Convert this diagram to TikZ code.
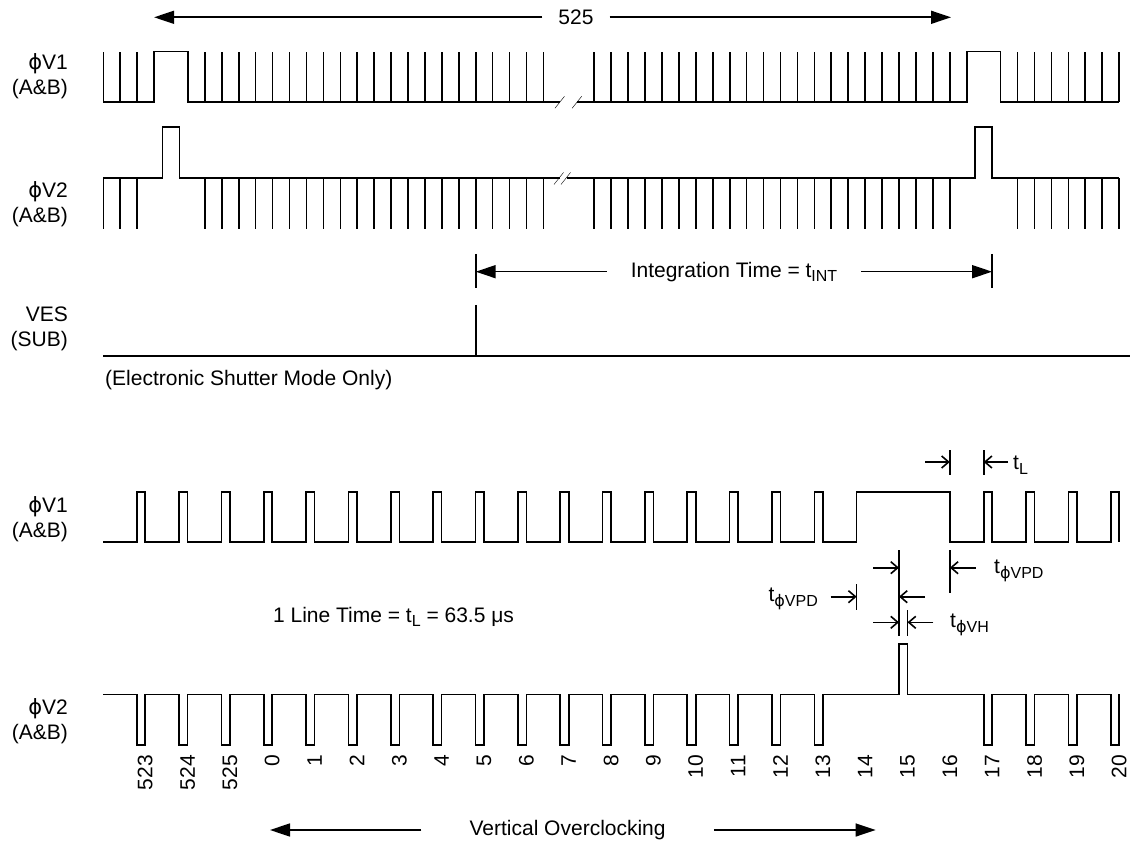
\documentclass[tikz,border=0pt]{standalone}
\usepackage{fontspec}
\setmainfont{Liberation Sans}
\newfontfamily\phifont{DejaVu Sans}
\usetikzlibrary{arrows.meta}

\newcommand\ph{{\phifont ϕ}}
\newcommand\lowsub[1]{\raisebox{-4.5pt}{\fontsize{16}{16}\selectfont #1}}

\begin{document}
\begin{tikzpicture}[x=1pt,y=-1pt,
	every node/.style={font=\fontsize{21}{25}\selectfont,inner sep=0pt},
	wave/.style={line width=1.6pt},
	bar/.style={line width=1.6pt},
	dim/.style={line width=1.6pt,-{Straight Barb[length=7pt,width=12pt]}},
	span/.style={line width=1.6pt,-{Triangle[length=20pt,width=13pt]}}]
\useasboundingbox (0,0) rectangle (1130,842);

% signal names
\node[align=right,anchor=east] (v1top) at (68,76) {\ph V1\\(A\&B)};
\node[align=right,anchor=east] (v2top) at (68,204) {\ph V2\\(A\&B)};
\node[align=right,anchor=east] (ves) at (68,329) {VES\\(SUB)};
\node[anchor=west] (esm) at (105,380) {(Electronic Shutter Mode Only)};
\node[align=right,anchor=east] (v1low) at (68,519) {\ph V1\\(A\&B)};
\node[align=right,anchor=east] (v2low) at (68,721) {\ph V2\\(A\&B)};

% 525 lines
\node[inner xsep=16pt] (n525) at (576,17.3) {525};
\coordinate (fieldl) at (154.1,17.3);
\coordinate (fieldr) at (951,17.3);
\draw[span] (n525) -- (fieldl);
\draw[span] (n525) -- (fieldr);

% phi V1, field view
\draw[wave] (103.3,102.3) -- (154.1,102.3) -- (154.1,51.7) -- (188,51.7) -- (188,102.3) -- (559.7,102.3);
\draw[wave] (576.9,102.3) -- (966.7,102.3) -- (966.7,51.7) -- (1000.6,51.7) -- (1000.6,102.3) -- (1119.1,102.3);
\foreach \j in {0,1,2,6,7,...,26,29,30,...,50,54,55,...,60}
	\draw[wave] ({103.3+16.93*\j},102.3) -- ++(0,-50.6);
\draw (554.9,108.3) -- (564.5,96.3);
\draw (572.1,108.3) -- (581.7,96.3);

% phi V2, field view
\draw[wave] (103.3,178.3) -- (162.6,178.3) -- (162.6,127.3) -- (179.5,127.3) -- (179.5,178.3) -- (559.7,178.3);
\draw[wave] (566.5,178.3) -- (975.2,178.3) -- (975.2,127.3) -- (992.1,127.3) -- (992.1,178.3) -- (1119.1,178.3);
\foreach \j in {0,1,2,6,7,...,26,29,30,...,50,54,55,...,60}
	\draw[wave] ({103.3+16.93*\j},178.3) -- ++(0,51);
\draw (554,184.5) -- (563.5,172.5);
\draw (561,184.5) -- (570.5,172.5);

% integration time
\node[inner xsep=24pt] (tint) at (734,271.7) {Integration Time = t\lowsub{INT}};
\coordinate (intl) at (475.7,271.7);
\coordinate (intr) at (992.1,271.7);
\draw[span] (tint) -- (intl);
\draw[span] (tint) -- (intr);
\draw[bar] (475.7,254) -- (475.7,288.3);
\draw[bar] (992.1,254) -- (992.1,288.3);

% VES
\draw[wave] (103.3,356) -- (1130,356);
\draw[wave] (475.7,305) -- (475.7,356);

% phi V1, line view
\draw[wave] (103.3,541.7)
	\foreach \k in {0,...,16} { -- ({136.7+42.35*\k},541.7) -- ++(0,-50) -- ++(8.5,0) -- ++(0,50) }
	-- (856.65,541.7) -- (856.65,491.7) -- (949.85,491.7) -- (949.85,541.7)
	\foreach \k in {20,...,23} { -- ({136.7+42.35*\k},541.7) -- ++(0,-50) -- ++(8.5,0) -- ++(0,50) };

% phi V2, line view
\draw[wave] (103.3,694.3)
	\foreach \k in {0,...,16} { -- ({136.7+42.35*\k},694.3) -- ++(0,50.7) -- ++(8.5,0) -- ++(0,-50.7) }
	-- (899,694.3) -- (899,644) -- (907.5,644) -- (907.5,694.3)
	\foreach \k in {20,...,23} { -- ({136.7+42.35*\k},694.3) -- ++(0,50.7) -- ++(8.5,0) -- ++(0,-50.7) };

% line numbers
\foreach \n [count=\k from 0] in {523,524,525,0,1,...,20}
	\node[rotate=90,anchor=east] (num\k) at ({145.2+42.35*\k},755) {\n};

\node (lt) at (393.5,616.7) {1 Line Time = t\lowsub{L} = 63.5 μs};

% timing marks
\coordinate (r17) at (856.65,584);
\coordinate (r18) at (899,550);
\coordinate (f18) at (907.5,610);
\coordinate (f19) at (949.85,550);
\draw[bar] (r18) -- (899,636);
\draw[bar] (f19) -- (949.85,593.3);
\draw[bar] (r17) -- (856.65,610);
\draw[bar] (f18) -- (907.5,636);
\draw[bar] (949.85,450) -- (949.85,475);
\draw[bar] (983.7,450) -- (983.7,475);

\node[anchor=west] (tl) at (1013,465) {t\lowsub{L}};
\coordinate (tla) at (925,462);
\coordinate (tlb) at (1008,462);
\draw[dim] (tla) -- (949.85,462);
\draw[dim] (tlb) -- (983.7,462);

\node[anchor=west] (tvpda) at (994,571) {t\lowsub{\ph VPD}};
\draw[dim] (873.3,567.7) -- (899,567.7);
\draw[dim] (975.5,567.7) -- (949.85,567.7);

\node[anchor=east] (tvpdb) at (818,599) {t\lowsub{\ph VPD}};
\draw[dim] (830.7,596.7) -- (856.65,596.7);
\draw[dim] (925,596.7) -- (899,596.7);

\node[anchor=west] (tvh) at (950,625) {t\lowsub{\ph VH}};
\draw[dim] (873.3,622.3) -- (899,622.3);
\draw[dim] (933.3,622.3) -- (907.5,622.3);

% overclocking
\node[inner xsep=48pt] (vo) at (567.6,830) {Vertical Overclocking};
\coordinate (vol) at (270,830);
\coordinate (vor) at (875.6,830);
\draw[span] (vo) -- (vol);
\draw[span] (vo) -- (vor);
\end{tikzpicture}
\end{document}
